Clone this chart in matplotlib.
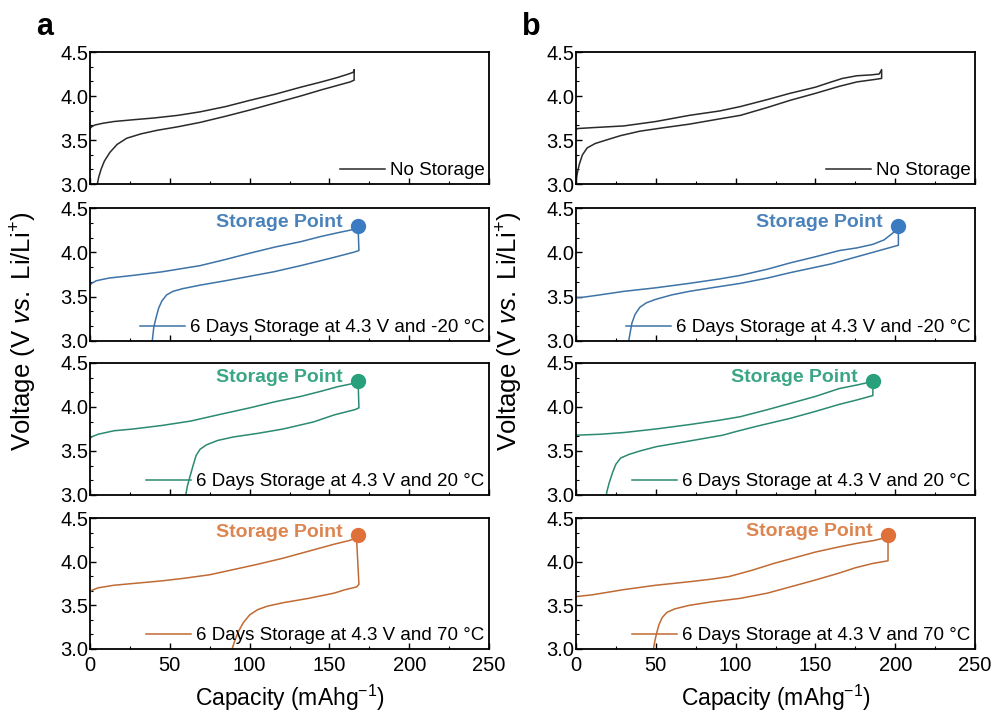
import matplotlib
matplotlib.use("Agg")
import matplotlib.pyplot as plt
from matplotlib.ticker import MultipleLocator, AutoMinorLocator

plt.rcParams['font.family'] = ['Liberation Sans', 'DejaVu Sans']
plt.rcParams['mathtext.fontset'] = 'custom'
plt.rcParams['mathtext.rm'] = 'Liberation Sans'
plt.rcParams['mathtext.it'] = 'Liberation Sans:italic'

# ---- data (capacity mAh/g, voltage V) ----
# column a
a1_chg_x = [0, 1, 3, 8, 15, 27, 40, 55, 69, 85, 100, 116, 132, 145, 155, 162, 165, 165.5]
a1_chg_v = [3.63, 3.65, 3.67, 3.69, 3.71, 3.73, 3.75, 3.78, 3.82, 3.88, 3.95, 4.02, 4.10, 4.16, 4.21, 4.25, 4.27, 4.30]
a1_dis_x = [165.5, 163, 155, 145, 132, 116, 100, 85, 69, 55, 42, 32, 23, 17, 12.5, 9, 7, 5.5, 4.6]
a1_dis_v = [4.18, 4.16, 4.12, 4.07, 4.00, 3.92, 3.84, 3.77, 3.70, 3.65, 3.61, 3.57, 3.52, 3.45, 3.36, 3.26, 3.17, 3.08, 3.0]

a2_chg_x = [0, 1, 4, 12, 27, 45, 69, 85, 100, 116, 132, 145, 155, 163, 168]
a2_chg_v = [3.63, 3.65, 3.68, 3.71, 3.74, 3.78, 3.85, 3.92, 3.99, 4.06, 4.12, 4.18, 4.22, 4.25, 4.27]
a2_dis_x = [168.5, 165, 150, 132, 115, 100, 85, 69, 58, 52, 48, 45, 43, 41.5, 40, 39]
a2_dis_v = [4.02, 4.00, 3.93, 3.85, 3.78, 3.73, 3.68, 3.63, 3.59, 3.56, 3.52, 3.45, 3.37, 3.27, 3.16, 3.0]

a3_chg_x = [0, 1, 5, 15, 27, 45, 63, 80, 100, 116, 132, 145, 155, 163, 168]
a3_chg_v = [3.64, 3.66, 3.69, 3.73, 3.75, 3.79, 3.84, 3.91, 3.99, 4.06, 4.12, 4.18, 4.23, 4.26, 4.28]
a3_dis_x = [168.5, 166, 153, 140, 121, 105, 90, 80, 73, 69, 66.5, 64.5, 62.5, 61, 60]
a3_dis_v = [3.99, 3.97, 3.91, 3.83, 3.75, 3.70, 3.66, 3.62, 3.57, 3.52, 3.45, 3.33, 3.20, 3.10, 3.0]

a4_chg_x = [0, 1, 5, 15, 27, 45, 59, 75, 90, 105, 121, 137, 153, 162, 167]
a4_chg_v = [3.65, 3.67, 3.70, 3.73, 3.75, 3.78, 3.81, 3.85, 3.91, 3.97, 4.04, 4.12, 4.20, 4.24, 4.27]
a4_dis_x = [168.5, 167, 160, 153, 137, 121, 111, 105, 100, 96, 93, 91, 89]
a4_dis_v = [3.74, 3.71, 3.68, 3.64, 3.58, 3.53, 3.49, 3.45, 3.39, 3.30, 3.20, 3.11, 3.0]

# column b
b1_chg_x = [0, 1, 10, 30, 50, 71, 90, 103, 120, 134, 150, 160, 167, 176, 185, 190, 191.5]
b1_chg_v = [3.62, 3.63, 3.64, 3.66, 3.71, 3.78, 3.83, 3.88, 3.96, 4.03, 4.10, 4.16, 4.20, 4.23, 4.24, 4.25, 4.30]
b1_dis_x = [191.5, 188, 176, 165, 150, 134, 120, 103, 90, 71, 55, 40, 28, 19, 12, 7, 4, 2, 0.8, 0.2]
b1_dis_v = [4.20, 4.19, 4.16, 4.11, 4.03, 3.95, 3.87, 3.78, 3.74, 3.68, 3.64, 3.60, 3.55, 3.50, 3.46, 3.41, 3.33, 3.22, 3.12, 3.05]

b2_chg_x = [0, 3, 15, 30, 50, 71, 90, 103, 120, 134, 150, 165, 176, 186, 193, 198, 202]
b2_chg_v = [3.49, 3.49, 3.52, 3.56, 3.60, 3.65, 3.70, 3.74, 3.81, 3.88, 3.95, 4.02, 4.05, 4.09, 4.14, 4.21, 4.27]
b2_dis_x = [202, 190, 176, 160, 134, 120, 103, 85, 71, 60, 50, 44, 40, 37, 35, 34, 33]
b2_dis_v = [4.08, 4.02, 3.95, 3.87, 3.77, 3.71, 3.65, 3.60, 3.56, 3.52, 3.47, 3.43, 3.38, 3.30, 3.20, 3.10, 3.0]

b3_chg_x = [0, 15, 30, 50, 71, 90, 103, 120, 134, 150, 165, 176, 186]
b3_chg_v = [3.68, 3.69, 3.71, 3.75, 3.80, 3.85, 3.89, 3.97, 4.04, 4.12, 4.21, 4.25, 4.29]
b3_dis_x = [186, 176, 165, 150, 134, 113, 100, 92, 70, 50.5, 40, 33, 28, 25, 23, 21, 19.5, 19]
b3_dis_v = [4.13, 4.08, 4.03, 3.95, 3.87, 3.78, 3.72, 3.68, 3.61, 3.55, 3.50, 3.46, 3.42, 3.35, 3.26, 3.15, 3.05, 3.0]

b4_chg_x = [0, 10, 30, 50, 71, 85, 96, 110, 124, 134, 150, 165, 176, 186, 195.5]
b4_chg_v = [3.60, 3.62, 3.68, 3.73, 3.77, 3.80, 3.83, 3.90, 3.98, 4.03, 4.11, 4.17, 4.21, 4.24, 4.28]
b4_dis_x = [195.5, 186, 175, 165, 150, 134, 120, 103, 85, 71, 62, 57, 54, 52, 50.5, 49.5, 48.5]
b4_dis_v = [4.01, 3.98, 3.93, 3.87, 3.79, 3.71, 3.64, 3.58, 3.54, 3.50, 3.46, 3.42, 3.36, 3.28, 3.18, 3.10, 3.0]

labels = ["No Storage",
          "6 Days Storage at 4.3 V and -20 \u00b0C",
          "6 Days Storage at 4.3 V and 20 \u00b0C",
          "6 Days Storage at 4.3 V and 70 \u00b0C"]

# storage point (capacity, voltage) for rows 2-4
a_points = [(168, 4.30), (168, 4.30), (168, 4.30)]
b_points = [(202, 4.30), (186, 4.30), (195.5, 4.31)]

line_colors = ["#2a2a2a", "#3d73a6", "#2a8a72", "#c06a34"]
dot_colors = ["#2a2a2a", "#3b7bc2", "#28a07c", "#e0703a"]
text_colors = ["#2a2a2a", "#4a82bb", "#3aa685", "#dc8550"]

columns = {
    "a": [(a1_chg_x, a1_chg_v, a1_dis_x, a1_dis_v),
          (a2_chg_x, a2_chg_v, a2_dis_x, a2_dis_v),
          (a3_chg_x, a3_chg_v, a3_dis_x, a3_dis_v),
          (a4_chg_x, a4_chg_v, a4_dis_x, a4_dis_v)],
    "b": [(b1_chg_x, b1_chg_v, b1_dis_x, b1_dis_v),
          (b2_chg_x, b2_chg_v, b2_dis_x, b2_dis_v),
          (b3_chg_x, b3_chg_v, b3_dis_x, b3_dis_v),
          (b4_chg_x, b4_chg_v, b4_dis_x, b4_dis_v)],
}
points = {"a": a_points, "b": b_points}

W, H = 992, 713
rows_px = [(52, 184), (208, 341), (363, 495), (518, 649)]
col_left_px = {"a": 90, "b": 576}
ax_w_px = 399


def main():
    fig = plt.figure(figsize=(W / 100, H / 100), dpi=100)

    for col, data in columns.items():
        left = col_left_px[col] / W
        for i, (cx, cv, dx, dv) in enumerate(data):
            top, bot = rows_px[i]
            ax = fig.add_axes([left, 1 - bot / H, ax_w_px / W, (bot - top) / H])
            # charge + discharge as one trace so the legend shows one line
            ax.plot(cx + dx, cv + dv, color=line_colors[i], lw=1.1,
                    label=labels[i])
            if i > 0:
                px, pv = points[col][i - 1]
                ax.plot(px, pv, 'o', color=dot_colors[i], ms=10, zorder=5)
                ax.annotate("Storage Point", (px, pv), xytext=(-11, 2),
                            textcoords="offset points", ha="right", va="center",
                            color=text_colors[i], fontsize=14,
                            fontweight="bold")
            ax.legend(loc="lower right", frameon=False, fontsize=13.5,
                      handlelength=2.4, handletextpad=0.25,
                      borderaxespad=0.05, borderpad=0.2)

            ax.set_xlim(0, 250)
            ax.set_ylim(3.0, 4.5)
            ax.xaxis.set_major_locator(MultipleLocator(50))
            ax.xaxis.set_minor_locator(AutoMinorLocator(2))
            ax.yaxis.set_major_locator(MultipleLocator(0.5))
            ax.yaxis.set_minor_locator(AutoMinorLocator(3))
            ax.yaxis.set_major_formatter(plt.FormatStrFormatter("%.1f"))
            ax.tick_params(which="both", direction="in", top=False,
                           right=False, labelsize=14.5)
            ax.tick_params(axis="y", pad=1)
            ax.tick_params(axis="x", pad=5)
            ax.tick_params(which="major", length=4, width=1)
            ax.tick_params(which="minor", length=2.5, width=0.8)
            for s in ax.spines.values():
                s.set_linewidth(1.3)
            if i < 3:
                ax.tick_params(labelbottom=False)

        xc = (col_left_px[col] + ax_w_px / 2) / W
        fig.text(xc, 1 - 698 / H, "Capacity (mAhg$^{-1}$)", ha="center",
                 va="center", fontsize=16.5)
        fig.text((col_left_px[col] - 66) / W, 1 - 331 / H,
                 r"Voltage (V $\it{vs.}$ Li/Li$^{+}$)", rotation=90,
                 ha="center", va="center", fontsize=18.5)
        fig.text((col_left_px[col] - 54) / W, 1 - 27 / H, col,
                 ha="left", va="center", fontsize=22, fontweight="bold")

    fig.savefig("out.png", dpi=100)


if __name__ == "__main__":
    main()
